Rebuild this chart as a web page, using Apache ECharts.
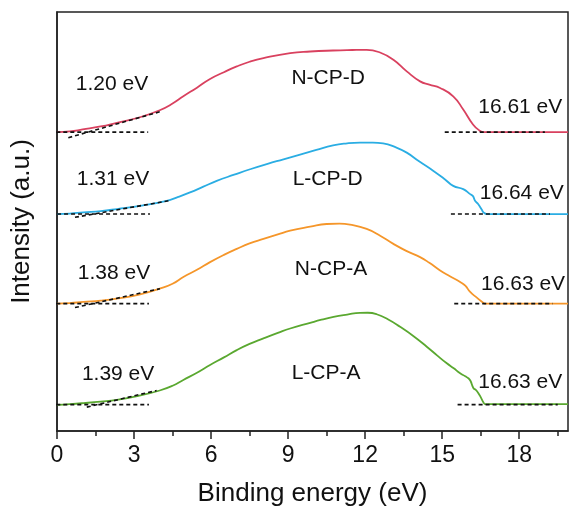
<!DOCTYPE html>
<html>
<head>
<meta charset="utf-8">
<script src="https://cdn.jsdelivr.net/npm/echarts@6/dist/echarts.min.js"></script>
<style>html,body{margin:0;padding:0;background:#fff}#c{width:570px;height:512px}</style>
</head>
<body>
<div id="c"></div>
<script>
// ---- data (Binding energy in eV, intensity in arbitrary offset units) ----
const xTicks = [0, 3, 6, 9, 12, 15, 18];
const xMinorTicks = [1.5, 4.5, 7.5, 10.5, 13.5, 16.5, 19.5];

const sampleNames = ['N-CP-D', 'L-CP-D', 'N-CP-A', 'L-CP-A'];
const lowOnset = ['1.20 eV', '1.31 eV', '1.38 eV', '1.39 eV'];
const cutoff = ['16.61 eV', '16.64 eV', '16.63 eV', '16.63 eV'];
const baselines = [300.3, 218, 128, 26.5];

const ncpdCurve = [[0,300.3],[0.5,301],[1.0,303],[1.7,306],[2.33,309.7],[3.2,315],[4.0,322.3],[4.5,329],[4.92,336.3],[5.45,345],[5.96,353.7],[6.5,360.5],[7.0,366.3],[7.5,371],[8.04,374.7],[9.08,379.7],[9.86,381.3],[10.75,382.3],[11.5,382.8],[12.06,383],[12.58,380.3],[13.1,373],[13.62,361.3],[14.14,351.3],[14.5,348],[14.92,344.7],[15.43,336.3],[15.82,323],[16.2,308],[16.45,302],[16.61,300.3],[17.2,300.3],[18.5,300.3],[19.9,300.3]];
const lcpdCurve = [[0,218],[0.5,218.5],[1.03,219.7],[1.7,221],[2.33,223],[3.3,226.5],[4.27,231.3],[4.7,235],[5.18,239.7],[5.7,245.5],[6.22,251.3],[6.9,257.5],[7.52,263],[8.2,268.5],[8.82,273],[9.5,278],[10.1,282.5],[10.75,287],[11.3,289],[11.8,289.7],[12.3,289.7],[12.7,289],[13.2,285],[13.62,279.7],[14.1,271],[14.66,261.3],[15.1,253],[15.43,246.3],[15.82,243],[16.09,238],[16.2,236],[16.28,231.3],[16.4,228],[16.55,222],[16.61,219.7],[16.74,218],[17.2,218],[18.5,218],[19.9,218]];
const ncpaCurve = [[0,128],[0.5,128.5],[1.03,129.7],[1.7,131],[2.33,133],[3.2,137],[4.0,143],[4.5,148],[4.92,154.7],[5.45,162],[5.96,169.7],[6.5,177],[7.0,183],[7.5,188.5],[8.04,193],[8.6,197.5],[9.08,201.3],[9.86,205.3],[10.5,208],[11.0,208.3],[11.41,207.3],[12.06,203],[12.6,196],[13.1,188],[13.6,181],[14.14,174.7],[14.5,169],[14.92,161.3],[15.3,155.5],[15.7,149.7],[15.9,146],[16.09,139.7],[16.35,134],[16.61,128.7],[16.7,128],[17.2,128],[18.5,128],[19.9,128]];
const lcpaCurve = [[0,26.3],[0.5,27],[1.03,28],[1.7,29.5],[2.33,31.3],[3.2,35.5],[4.0,40.7],[4.5,45.5],[4.92,51.3],[5.45,58.5],[5.96,66.3],[6.5,74],[7.0,81.3],[7.5,87.5],[8.04,93],[8.6,98.5],[9.08,103],[9.86,108.7],[10.3,111.8],[10.77,114.7],[11.3,117],[11.8,118.7],[12.1,118.8],[12.45,117.3],[12.9,112],[13.36,104.7],[13.9,95],[14.4,84.7],[14.8,76],[15.18,68],[15.45,63],[15.7,58],[15.9,55],[16.02,53],[16.1,50.5],[16.22,43],[16.3,41.5],[16.41,38],[16.52,33],[16.61,28.7],[16.67,27],[17.2,27],[18.5,27],[19.9,27]];

// tangent (onset) fit lines: [x0, y0, x1, y1]
const tangentLines = [[0.44,294.7,4.08,321.3],[0.70,214.7,4.34,231.3],[0.70,124,4.01,143],[1.16,24,3.88,40.7]];
// baseline extents (eV): left and right segments
const leftBaseRange = [[-0.3,3.55],[-0.27,3.62],[-0.3,3.58],[-0.3,3.58]];
const rightBaseRange = [[15.1,19.0],[15.34,19.2],[15.47,19.3],[15.6,19.5]];

// ---- layout for annotation text (value coordinates of text centres) ----
const onsetLabelPos = [[2.14,348],[2.18,253.5],[2.22,159],[2.38,57.5]];
const nameLabelPos = [[10.56,354],[10.54,253],[10.67,163],[10.48,58]];
const cutoffLabelPos = [[18.04,325.5],[18.1,238.5],[18.15,147.5],[18.04,49]];

const colors = ['#d9415f', '#2aade3', '#f5962a', '#5aa830'];
const curves = [ncpdCurve, lcpdCurve, ncpaCurve, lcpaCurve];
const FONT = 'Liberation Sans, Arial, Helvetica, sans-serif';
const TEXT_COLOR = '#111';

const series = [];
curves.forEach((c, i) => {
  series.push({
    type: 'line', data: c, showSymbol: false, smooth: 0.5,
    lineStyle: { color: colors[i], width: 1.8 }, z: 2, silent: true
  });
});
const dash = { color: '#111', width: 1.6, type: [4, 3] };
for (let i = 0; i < 4; i++) {
  const t = tangentLines[i];
  series.push({ type: 'line', data: [[t[0], t[1]], [t[2], t[3]]], showSymbol: false, lineStyle: dash, z: 3, silent: true });
  series.push({ type: 'line', data: [[leftBaseRange[i][0], baselines[i]], [leftBaseRange[i][1], baselines[i]]], showSymbol: false, lineStyle: dash, z: 3, clip: false, silent: true });
  series.push({ type: 'line', data: [[rightBaseRange[i][0], baselines[i]], [rightBaseRange[i][1], baselines[i]]], showSymbol: false, lineStyle: dash, z: 3, clip: false, silent: true });
}

const chart = echarts.init(document.getElementById('c'), null, { renderer: 'canvas' });
chart.setOption({
  animation: false,
  backgroundColor: '#fff',
  grid: { left: 57, right: 2, top: 12, bottom: 79, show: true, borderColor: '#222', borderWidth: 1.5, backgroundColor: 'transparent' },
  xAxis: [{
    type: 'value', min: 0, max: 19.9,
    name: 'Binding energy (eV)', nameLocation: 'middle', nameGap: 50,
    nameTextStyle: { fontSize: 26, color: TEXT_COLOR, fontFamily: FONT },
    axisLine: { show: true, lineStyle: { color: '#222', width: 1.5 } },
    axisTick: { show: true, length: 8, customValues: xTicks, lineStyle: { color: '#222', width: 1.5 } },
    axisLabel: { show: true, customValues: xTicks, fontSize: 23, color: TEXT_COLOR, fontFamily: FONT, margin: 13 },
    splitLine: { show: false }
  }, {
    type: 'value', min: 0, max: 19.9, position: 'bottom', gridIndex: 0,
    axisLine: { show: false },
    axisTick: { show: true, length: 5, customValues: xMinorTicks, lineStyle: { color: '#222', width: 1.5 } },
    axisLabel: { show: false },
    splitLine: { show: false }
  }],
  yAxis: {
    type: 'value', min: 0, max: 421,
    name: 'Intensity (a.u.)', nameLocation: 'middle', nameGap: 22,
    nameTextStyle: { fontSize: 26, color: TEXT_COLOR, fontFamily: FONT },
    axisLine: { show: true, lineStyle: { color: '#222', width: 1.5 } },
    axisTick: { show: false }, axisLabel: { show: false }, splitLine: { show: false }
  },
  series: series
});

// annotation texts placed through the axes' own scale
const texts = [];
for (let i = 0; i < 4; i++) {
  [[onsetLabelPos[i], lowOnset[i]], [nameLabelPos[i], sampleNames[i]], [cutoffLabelPos[i], cutoff[i]]].forEach(([pos, str]) => {
    const p = chart.convertToPixel({ gridIndex: 0 }, pos);
    texts.push({
      type: 'text', x: p[0], y: p[1], z: 10, silent: true,
      style: { text: str, fill: TEXT_COLOR, font: '21px ' + FONT, align: 'center', verticalAlign: 'middle' }
    });
  });
}
chart.setOption({ graphic: texts });
</script>
</body>
</html>
